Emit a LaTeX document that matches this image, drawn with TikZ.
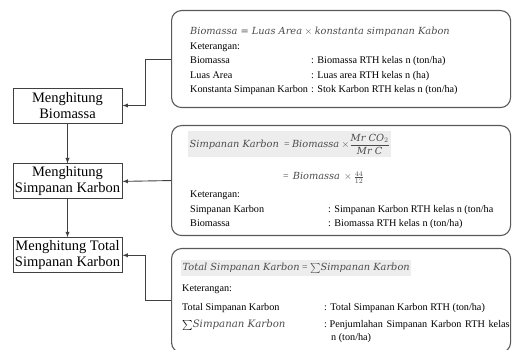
\documentclass[tikz,border=0pt]{standalone}
\usepackage{fontspec}
\usepackage{amsmath}
\setmainfont{Liberation Serif}
\newfontfamily\formfont{DejaVu Serif}
\usetikzlibrary{positioning}
\newcommand{\fm}[1]{{\formfont\itshape #1}}

\begin{document}
\begin{tikzpicture}[x=1pt, y=-1pt, >=latex,
  stepbox/.style = {draw=black!75, line width=0.9pt, minimum width=109pt, minimum height=35pt, align=center, inner sep=1pt, font=\fontsize{14.5}{16}\selectfont},
  notebox/.style = {draw=black!65, line width=1.1pt, rounded corners=10pt, anchor=north west, minimum width=339pt},
  conn/.style = {->, draw=black!75, line width=0.9pt},
  txt/.style = {anchor=base west, inner sep=0pt, font=\fontsize{10.2}{12}\selectfont},
  formula/.style = {txt, text=black!70, font=\fontsize{9.8}{12}\selectfont},
  hilite/.style = {formula, fill=black!7, inner xsep=1.5pt, inner ysep=2.5pt}]
    \useasboundingbox (0,0) rectangle (512,350);

    % steps on the left
    \node[stepbox] (b1) at (67.5,105.5) {Menghitung\\Biomassa};
    \node[stepbox] (b2) [below=40pt of b1] {Menghitung\\Simpanan Karbon};
    \node[stepbox] (b3) [below=38pt of b2] {Menghitung Total\\Simpanan Karbon};

    % notes on the right
    \node[notebox, minimum height=97pt] (ra) at (171,10) {};
    \node[notebox, minimum height=110pt] (rb) at (171,125) {};
    \node[notebox, minimum height=104pt] (rc) at (171,248) {};

    \draw[conn] (b1) -- (b2);
    \draw[conn] (b2) -- (b3);
    \draw[conn] (ra.west) -- ++(-26,0) |- (b1.east);
    \draw[conn] (rb.west) -- (b2.east);
    \draw[conn] (rc.west) -- ++(-26,0) |- (b3.east);

    % biomassa
    \node[formula] (fa) at (190,35) {\fm{Biomassa = Luas Area} $\times$ \fm{konstanta simpanan Kabon}};
    \node[txt] (ka) at (190,49.5) {Keterangan:};
    \node[txt] (a1) at (190,64) {Biomassa};
    \node[txt] (a1r) at (311,64) {: Biomassa RTH kelas n (ton/ha)};
    \node[txt] (a2) at (190,78.5) {Luas Area};
    \node[txt] (a2r) at (311,78.5) {: Luas area RTH kelas n (ha)};
    \node[txt] (a3) at (190,93) {Konstanta Simpanan Karbon};
    \node[txt] (a3r) at (311,93) {: Stok Karbon RTH kelas n (ton/ha)};

    % simpanan karbon
    \node[hilite] (fb) at (188,148) {\fm{Simpanan Karbon} \;= \fm{Biomassa} $\times\dfrac{\text{\fm{Mr CO}}_2}{\text{\fm{Mr C}}}$};
    \node[formula] (fb2) at (283,180) {= \,\fm{Biomassa} \,$\times\,\frac{44}{12}$};
    \node[txt] (kb) at (190,198) {Keterangan:};
    \node[txt] (b1l) at (190,213) {Simpanan Karbon};
    \node[txt] (b1r) at (328,213) {: Simpanan Karbon RTH kelas n (ton/ha};
    \node[txt] (b2l) at (190,227) {Biomassa};
    \node[txt] (b2r) at (328,227) {: Biomassa RTH kelas n (ton/ha)};

    % total simpanan karbon
    \node[hilite] (fc) at (181,270.5) {\fm{Total Simpanan Karbon} = $\sum$\fm{Simpanan Karbon}\hspace{2pt}};
    \node[txt] (kc) at (182,291) {Keterangan:};
    \node[txt] (c1) at (182,310.5) {Total Simpanan Karbon};
    \node[txt] (c1r) at (324,310.5) {: Total Simpanan Karbon RTH (ton/ha)};
    \node[txt] (c2) at (182,327.5) {$\sum$\textcolor{black!70}{\fm{Simpanan Karbon}}};
    \node[txt] (c2r) at (324,327.5) {:~\makebox[180pt][s]{Penjumlahan Simpanan Karbon RTH kelas}};
    \node[txt] (c3r) at (331,340) {n (ton/ha)};
\end{tikzpicture}
\end{document}
